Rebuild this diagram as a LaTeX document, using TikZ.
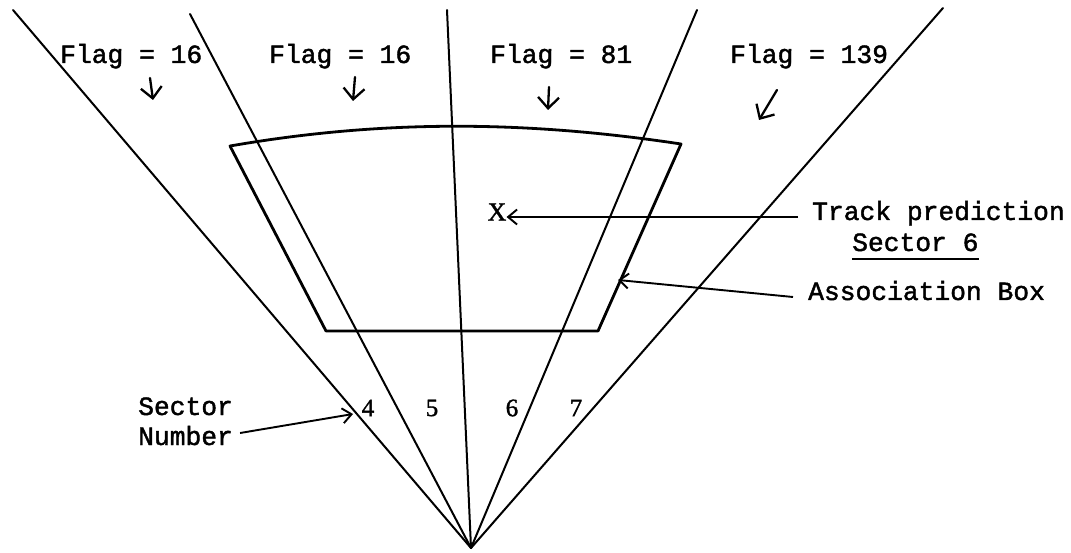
\documentclass[tikz,border=0pt]{standalone}
\usepackage{fontspec}
\usetikzlibrary{arrows.meta}
\newfontfamily\tw[FakeBold=1.6]{Liberation Mono}
\newfontfamily\sr[FakeBold=1.4]{Liberation Serif}
\tikzset{
  ray/.style={line width=2pt, line cap=round},
  boxline/.style={line width=2.8pt, line join=round},
  lbl/.style={inner sep=0pt, anchor=base west, font=\tw\fontsize{26.3}{30}\selectfont},
  num/.style={inner sep=0pt, font=\sr\fontsize{25}{28}\selectfont},
  conn/.style={line width=1.9pt, -{Straight Barb[length=9pt,width=15pt,line width=1.9pt]}},
  hand/.style={line width=2.3pt, line cap=round, -{Straight Barb[length=11pt,width=21pt,line width=2.3pt]}}
}
\begin{document}
\begin{tikzpicture}[x=1pt,y=-1pt]
\useasboundingbox (0,0) rectangle (1071,553);
% apex and ray ends
\coordinate (O) at (471,548);
\coordinate (T1) at (13,10);
\coordinate (T2) at (190,14);
\coordinate (T3) at (447,10);
\coordinate (T4) at (697,10);
\coordinate (T5) at (943,8);
\foreach \t in {T1,T2,T3,T4,T5} \draw[ray] (O) -- (\t);
% association box
\draw[boxline] (230,146) .. controls (380,120) and (522,120) .. (681,144)
  -- (598,331) -- (326,331) -- cycle;
% flag labels
\node[lbl] (f1) at (60,63) {Flag = 16};
\node[lbl] (f2) at (269,63) {Flag = 16};
\node[lbl] (f3) at (490,63) {Flag = 81};
\node[lbl] (f4) at (730,63) {Flag = 139};
\coordinate (a1s) at (150,78);  \coordinate (a1e) at (153,100);
\coordinate (a2s) at (355,77);  \coordinate (a2e) at (353,101);
\coordinate (a3s) at (549,87);  \coordinate (a3e) at (548,110);
\coordinate (a4s) at (777,90);  \coordinate (a4e) at (759,120);
\draw[hand] (a1s) -- (a1e);
\draw[hand] (a2s) -- (a2e);
\draw[hand] (a3s) -- (a3e);
\draw[hand] (a4s) -- (a4e);
% track prediction
\node[num, font=\sr\fontsize{26}{30}\selectfont] (xm) at (497,212) {X};
\node[lbl] (track) at (812,220) {Track prediction};
\node[lbl] (s6) at (852,251) {Sector 6};
\draw[line width=1.2pt] ([yshift=-8pt]s6.base west) -- ([yshift=-8pt]s6.base east);
\draw[conn] ([shift={(-14pt,3pt)}]track.base west) -- ([yshift=-5pt]xm.east);
% association box label
\node[lbl] (assoc) at (808,300) {Association Box};
\coordinate (ab) at (618,280);
\draw[conn] ([shift={(-15pt,3pt)}]assoc.base west) -- (ab);
% sector numbers
\node[num] (n4) at (368,408) {4};
\node[num] (n5) at (432,408) {5};
\node[num] (n6) at (512,408) {6};
\node[num] (n7) at (576,408) {7};
\node[lbl] (sector) at (138,415) {Sector};
\node[lbl] (number) at (138,445) {Number};
\coordinate (sn) at (353,414);
\draw[conn] ([shift={(7pt,12pt)}]number.base east) -- (sn);
\end{tikzpicture}
\end{document}
